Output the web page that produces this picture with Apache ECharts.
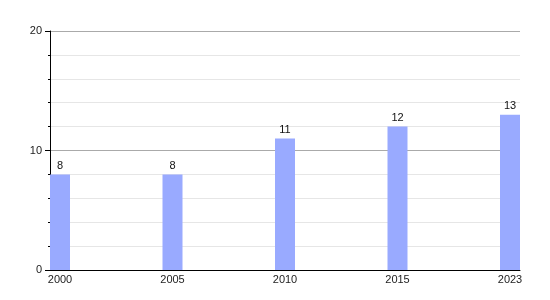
<!DOCTYPE html>
<html><head><meta charset="utf-8">
<script src="https://cdn.jsdelivr.net/npm/echarts@6/dist/echarts.min.js"></script>
<style>html,body{margin:0;padding:0;background:#fff}#c{width:550px;height:300px}</style>
</head><body><div id="c"></div>
<script>
var categories = ['2000', '2005', '2010', '2015', '2023'];
var values = [8, 8, 11, 12, 13];
var yTicks = [0, 10, 20];

var chart = echarts.init(document.getElementById('c'), null, {renderer: 'canvas'});
var idx = categories.map(function (c, i) { return i; });
chart.setOption({
  animation: false,
  grid: {left: 50, right: 30, top: 31, bottom: 30, containLabel: false},
  xAxis: {
    type: 'value', min: -0.0889, max: 4.0889,
    axisLine: {show: true, onZero: false, lineStyle: {color: '#000', width: 1}},
    axisTick: {show: false},
    splitLine: {show: false},
    axisLabel: {
      customValues: idx, margin: 4,
      color: '#222', fontSize: 11, fontFamily: 'Liberation Sans, Arial, sans-serif',
      formatter: function (v) { return categories[Math.round(v)]; }
    }
  },
  yAxis: {
    type: 'value', min: 0, max: 20, interval: 10,
    axisLine: {show: true, onZero: false, lineStyle: {color: '#000', width: 1}},
    axisTick: {show: true, length: 5, lineStyle: {color: '#000'}},
    minorTick: {show: true, splitNumber: 5, length: 2, lineStyle: {color: '#000'}},
    splitLine: {show: true, lineStyle: {color: '#aaa', width: 1}},
    minorSplitLine: {show: true, lineStyle: {color: '#e6e6e6', width: 1}},
    axisLabel: {
      customValues: yTicks, margin: 8,
      color: '#222', fontSize: 11, fontFamily: 'Liberation Sans, Arial, sans-serif'
    }
  },
  series: [{
    type: 'bar', barWidth: 20,
    itemStyle: {color: '#99aaff'},
    label: {show: true, position: 'top', distance: 3, color: '#111', fontSize: 11,
            fontFamily: 'Liberation Sans, Arial, sans-serif'},
    data: values.map(function (v, i) { return [idx[i], v]; })
  }]
});
</script></body></html>
